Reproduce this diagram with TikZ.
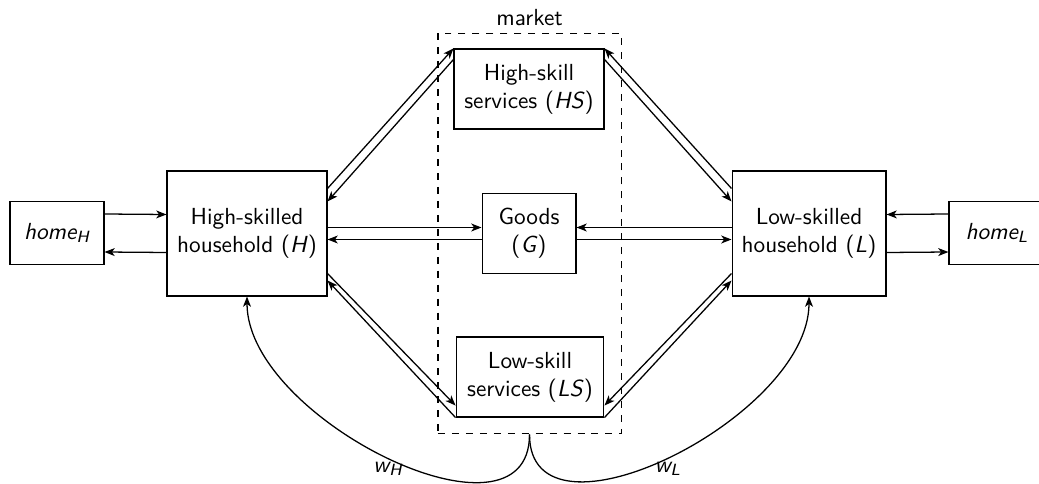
\documentclass[tikz,border=0pt]{standalone}
\usepackage{amsmath}
\usetikzlibrary{calc,arrows.meta}
\begin{document}
\begin{tikzpicture}[x=0.43pt,y=0.43pt,
  every node/.style={font=\sffamily},
  box/.style={draw, inner sep=0pt, align=center, line width=0.45pt},
  arr/.style={line width=0.55pt, -{Stealth[length=4.4pt,width=3.4pt,inset=1.2pt]}},
  mkt/.style={draw, dashed, inner sep=0pt, line width=0.45pt}]
\useasboundingbox (0,0) rectangle (1039,483);
% nodes
\node[box, minimum width=40.4pt, minimum height=26.7pt] (homeH) at (57,250) {$\textit{home}_{\textit{H}}$};
\node[box, minimum width=68.8pt, minimum height=53.75pt] (H) at (247,249.5) {High-skilled\\household (\textit{H})};
\node[box, minimum width=64.5pt, minimum height=34.4pt] (HS) at (529,394) {High-skill\\services (\textit{HS})};
\node[box, minimum width=40.4pt, minimum height=34.8pt] (G) at (529,249.5) {Goods\\(\textit{G})};
\node[box, minimum width=63.6pt, minimum height=34.4pt] (LS) at (530,106) {Low-skill\\services (\textit{LS})};
\node[box, minimum width=66.2pt, minimum height=53.75pt] (L) at (809,249.5) {Low-skilled\\household (\textit{L})};
\node[box, minimum width=41.3pt, minimum height=26.7pt] (homeL) at (997,250) {$\textit{home}_{\textit{L}}$};
\node[mkt, minimum width=78.7pt, minimum height=172.4pt] (market) at (529.5,249.5) {};
\node (mlabel) at (529.5,465) {market};
% home arrows
\draw[arr] ($(homeH.east)+(0,19)$) -- ($(H.west)+(0,19)$);
\draw[arr] ($(H.west)+(0,-19)$) -- ($(homeH.east)+(0,-19)$);
\draw[arr] ($(homeL.west)+(0,19)$) -- ($(L.east)+(0,19)$);
\draw[arr] ($(L.east)+(0,-19)$) -- ($(homeL.west)+(0,-19)$);
% goods arrows
\draw[arr] ($(H.east)+(0,6)$) -- ($(G.west)+(0,6)$);
\draw[arr] ($(G.west)+(0,-6)$) -- ($(H.east)+(0,-6)$);
\draw[arr] ($(L.west)+(0,6)$) -- ($(G.east)+(0,6)$);
\draw[arr] ($(G.east)+(0,-6)$) -- ($(L.west)+(0,-6)$);
% high-skill services
\draw[arr] ($(H.north east)+(0,-18)$) -- (HS.north west);
\draw[arr] ($(HS.north west)+(0,-11)$) -- ($(H.north east)+(0,-31)$);
\draw[arr] ($(L.north west)+(0,-18)$) -- (HS.north east);
\draw[arr] ($(HS.north east)+(0,-11)$) -- ($(L.north west)+(0,-31)$);
% low-skill services
\draw[arr] ($(H.south east)+(0,23)$) -- ($(LS.south west)+(0,12)$);
\draw[arr] (LS.south west) -- ($(H.south east)+(0,16)$);
\draw[arr] ($(L.south west)+(0,23)$) -- ($(LS.south east)+(0,12)$);
\draw[arr] (LS.south east) -- ($(L.south west)+(0,16)$);
% wages
\draw[arr] (market.south) to[out=-90,in=-90] (H.south);
\draw[arr] (market.south) to[out=-90,in=-90] (L.south);
\node (wH) at (388,14) {$\textit{w}_{\textit{H}}$};
\node (wL) at (668,14) {$\textit{w}_{\textit{L}}$};
\end{tikzpicture}
\end{document}
